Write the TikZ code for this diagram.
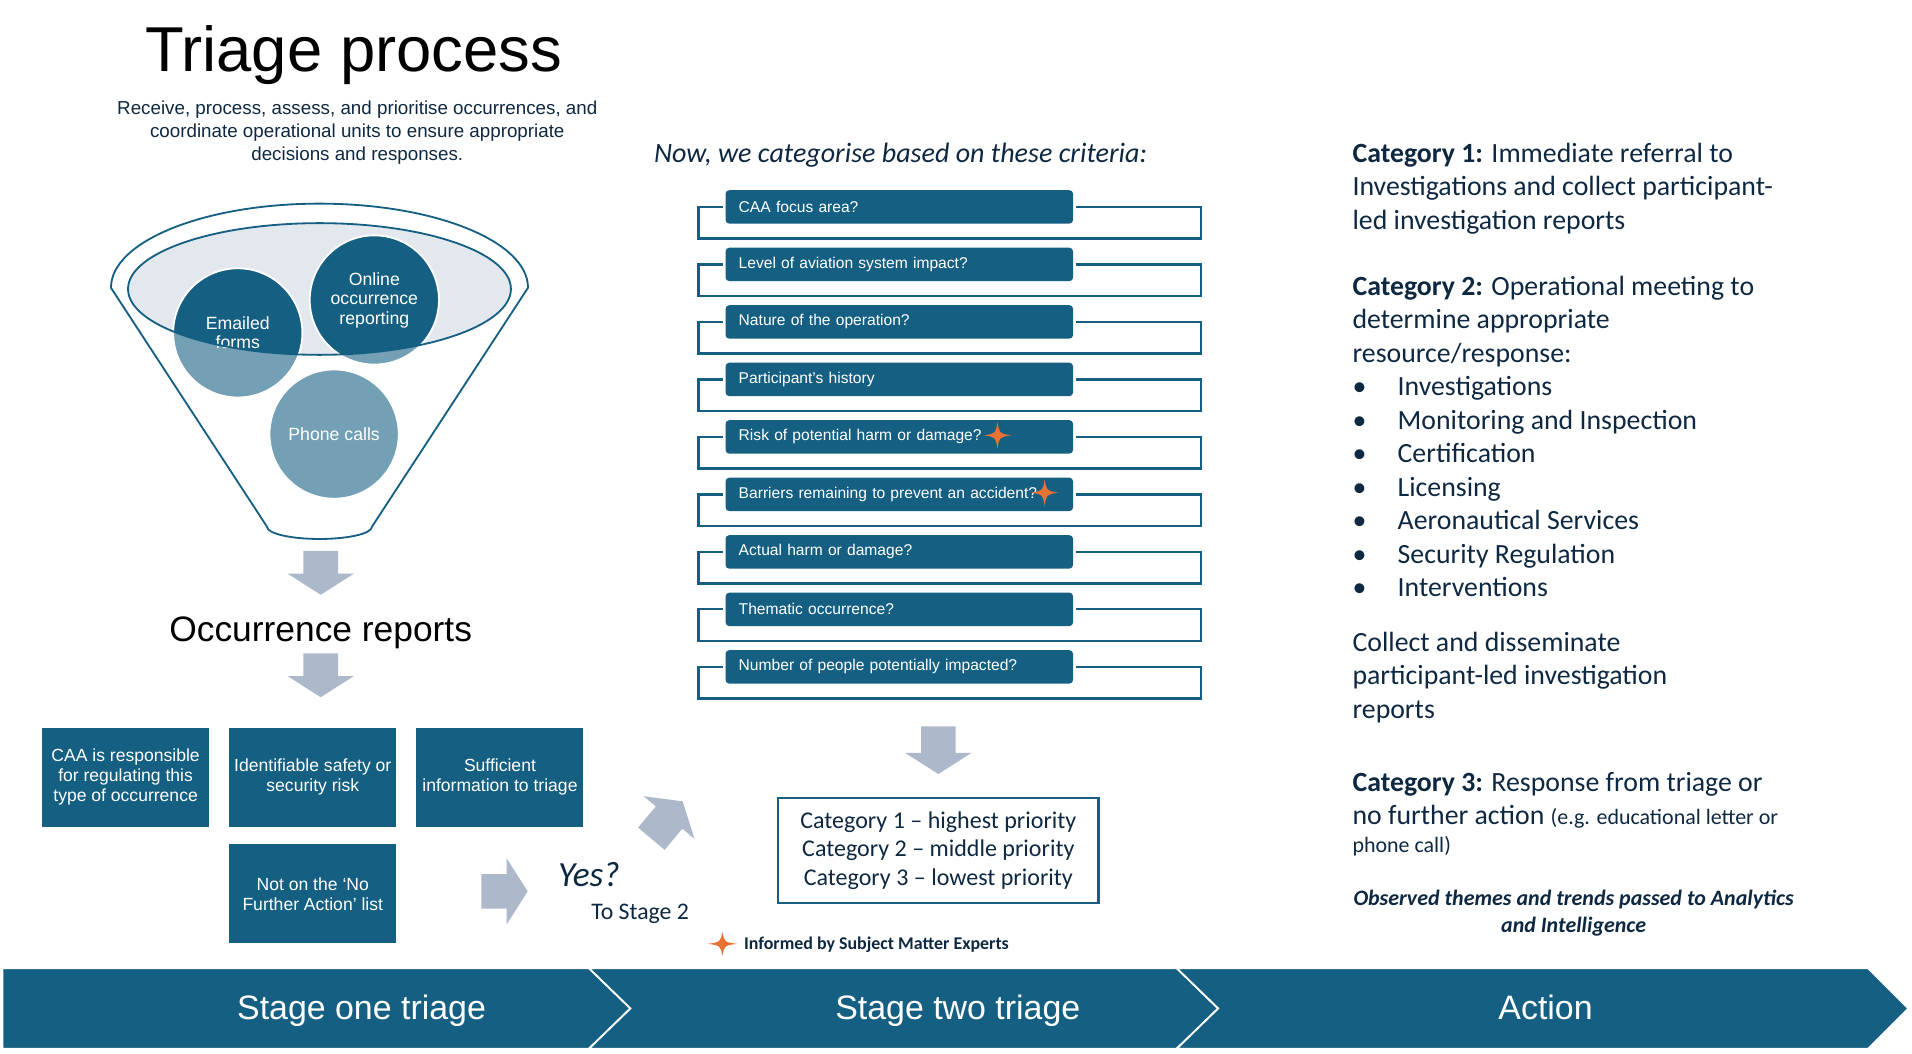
\documentclass[tikz,border=0pt]{standalone}
\usepackage{fontspec}
\setmainfont{Liberation Sans}
\newfontfamily\calfont{Carlito}
\usetikzlibrary{shapes.arrows}

\definecolor{caablue}{HTML}{156082}
\definecolor{caalight}{HTML}{73A0B4}
\definecolor{caanavy}{HTML}{0E2841}
\definecolor{caagrey}{HTML}{ADB9CA}
\definecolor{caamist}{HTML}{E3E8EE}
\definecolor{caaorange}{HTML}{E97132}

\tikzset{
	bubble/.style = {circle, minimum size = 106pt, inner sep = 0pt, fill = caalight, draw = white, line width = 1.5pt, text = white, align = center, font = \fontsize{14.5}{16}\selectfont},
	darkcap/.style = {path picture = {\fill[caablue] (bowl) ellipse (157 and 54);}},
	checkbox/.style = {fill = caablue, text = white, minimum width = 137pt, minimum height = 81pt, inner sep = 2pt, align = center, font = \fontsize{14.4}{16.4}\selectfont},
	critbox/.style = {fill = caablue, rounded corners = 3pt, text = white, minimum width = 285pt, minimum height = 27.4pt, text width = 263.4pt, inner xsep = 10.8pt, inner ysep = 0pt, align = left, font = \fontsize{12.8}{14}\selectfont},
	critline/.style = {draw = caablue, line width = 1.8pt},
	greyarrow/.style = {single arrow, fill = caagrey, inner xsep = 0pt, inner ysep = 14pt, single arrow head extend = 13pt, single arrow tip angle = 115, anchor = tip},
	chevron/.style = {fill = caablue, draw = white, line width = 1.5pt},
	rightcol/.style = {anchor = north west, align = left, inner sep = 0pt, text = caanavy, font = \calfont\fontsize{22.8}{27.5}\selectfont},
	spark/.pic = {\fill[caaorange] (0, -11) .. controls (1.5, -1.5) .. (11, 0) .. controls (1.5, 1.5) .. (0, 11) .. controls (-1.5, 1.5) .. (-11, 0) .. controls (-1.5, -1.5) .. (0, -11) -- cycle;}
}

\begin{document}
\begin{tikzpicture}[x = 1pt, y = -1pt]
	\useasboundingbox (0, 0) rectangle (1568, 864);

	\node[anchor = base, font = \fontsize{52}{60}\selectfont] (title) at (290, 59) {Triage process};
	\node[anchor = north, align = center, text = caanavy, inner sep = 0pt, font = \fontsize{15.4}{18.75}\selectfont] (intro) at (293, 82.5) {Receive, process, assess, and prioritise occurrences, and\\coordinate operational units to ensure appropriate\\decisions and responses.};

	\coordinate (bowl) at (262, 237);
	\draw[caablue, line width = 1.5pt] (91, 236) arc[start angle = 180, end angle = 360, x radius = 171, y radius = 69] -- (305, 432) arc[start angle = 0, end angle = 180, x radius = 43, y radius = 10] -- cycle;
	\fill[caamist] (bowl) ellipse (157 and 54);
	\node[bubble, darkcap] (emailed) at (195, 273) {Emailed\\forms};
	\node[bubble, darkcap] (online) at (307, 246) {Online\\occurrence\\reporting};
	\node[bubble] (phone) at (274, 356) {Phone calls};
	\draw[caablue, line width = 1.5pt] (bowl) ellipse (157 and 54);

	\node[greyarrow, minimum height = 36pt, rotate = -90] (drop1) at (263, 488) {};
	\node[anchor = base, font = \fontsize{29}{32}\selectfont] (reports) at (263, 526) {Occurrence reports};
	\node[greyarrow, minimum height = 36pt, rotate = -90] (drop2) at (263, 572) {};

	\node[checkbox] (caa) at (103, 637.5) {CAA is responsible\\for regulating this\\type of occurrence};
	\node[checkbox] (risk) at (256.5, 637.5) {Identifiable safety or\\security risk};
	\node[checkbox] (info) at (410, 637.5) {Sufficient\\information to triage};
	\node[checkbox] (nfa) at (256.5, 733) {Not on the ‘No\\Further Action’ list};

	\node[greyarrow, minimum height = 38pt] (go) at (433, 731) {};
	\node[anchor = base, text = caanavy, font = \calfont\itshape\fontsize{29}{32}\selectfont] (yes) at (483, 727) {Yes?};
	\node[anchor = base, text = caanavy, font = \calfont\fontsize{19.5}{22}\selectfont] (tostage) at (525, 754) {To Stage 2};
	\node[greyarrow, minimum height = 40pt, rotate = 50] (up) at (560, 657) {};

	\node[anchor = base, text = caanavy, font = \calfont\itshape\fontsize{23}{26}\selectfont] (criteria) at (738.5, 133) {Now, we categorise based on these criteria:};
	\node[critbox] (crit1) at (737.5, 169.7) {CAA focus area?};
	\node[critbox] (crit2) at (737.5, 216.85) {Level of aviation system impact?};
	\node[critbox] (crit3) at (737.5, 264) {Nature of the operation?};
	\node[critbox] (crit4) at (737.5, 311.15) {Participant’s history};
	\node[critbox] (crit5) at (737.5, 358.3) {Risk of potential harm or damage?};
	\node[critbox] (crit6) at (737.5, 405.45) {Barriers remaining to prevent an accident?};
	\node[critbox] (crit7) at (737.5, 452.6) {Actual harm or damage?};
	\node[critbox] (crit8) at (737.5, 499.75) {Thematic occurrence?};
	\node[critbox] (crit9) at (737.5, 546.9) {Number of people potentially impacted?};
	\draw[critline] ([xshift = -2pt]crit1.west) -- ++(-20, 0) -- ++(0, 25.9) -- ++(412, 0) -- ++(0, -25.9) -- ++(-102.4, 0);
	\draw[critline] ([xshift = -2pt]crit2.west) -- ++(-20, 0) -- ++(0, 25.9) -- ++(412, 0) -- ++(0, -25.9) -- ++(-102.4, 0);
	\draw[critline] ([xshift = -2pt]crit3.west) -- ++(-20, 0) -- ++(0, 25.9) -- ++(412, 0) -- ++(0, -25.9) -- ++(-102.4, 0);
	\draw[critline] ([xshift = -2pt]crit4.west) -- ++(-20, 0) -- ++(0, 25.9) -- ++(412, 0) -- ++(0, -25.9) -- ++(-102.4, 0);
	\draw[critline] ([xshift = -2pt]crit5.west) -- ++(-20, 0) -- ++(0, 25.9) -- ++(412, 0) -- ++(0, -25.9) -- ++(-102.4, 0);
	\draw[critline] ([xshift = -2pt]crit6.west) -- ++(-20, 0) -- ++(0, 25.9) -- ++(412, 0) -- ++(0, -25.9) -- ++(-102.4, 0);
	\draw[critline] ([xshift = -2pt]crit7.west) -- ++(-20, 0) -- ++(0, 25.9) -- ++(412, 0) -- ++(0, -25.9) -- ++(-102.4, 0);
	\draw[critline] ([xshift = -2pt]crit8.west) -- ++(-20, 0) -- ++(0, 25.9) -- ++(412, 0) -- ++(0, -25.9) -- ++(-102.4, 0);
	\draw[critline] ([xshift = -2pt]crit9.west) -- ++(-20, 0) -- ++(0, 25.9) -- ++(412, 0) -- ++(0, -25.9) -- ++(-102.4, 0);
	\pic at (818, 357) {spark};
	\pic at (856.7, 404) {spark};

	\node[greyarrow, minimum height = 39pt, rotate = -90] (drop3) at (769.5, 635) {};
	\node[draw = caablue, line width = 2pt, minimum width = 263pt, minimum height = 86pt, align = center, text = caanavy, font = \calfont\fontsize{19.7}{23.6}\selectfont] (levels) at (769.5, 697.6) {Category 1 – highest priority\\Category 2 – middle priority\\Category 3 – lowest priority};
	\pic[xscale = 1.1, yscale = 0.9] at (592.4, 774) {spark};
	\node[anchor = base west, inner sep = 0pt, text = caanavy, font = \calfont\bfseries\fontsize{14.7}{16}\selectfont] (experts) at (610, 779) {Informed by Subject Matter Experts};

	\node[rightcol] (cat1) at (1109, 117) {\textbf{Category 1:} Immediate referral to\\Investigations and collect participant-\\led investigation reports};
	\node[rightcol] (cat2) at (1109, 226) {\textbf{Category 2:} Operational meeting to\\determine appropriate\\resource/response:\\\makebox[37pt][l]{\textbullet}Investigations\\\makebox[37pt][l]{\textbullet}Monitoring and Inspection\\\makebox[37pt][l]{\textbullet}Certification\\\makebox[37pt][l]{\textbullet}Licensing\\\makebox[37pt][l]{\textbullet}Aeronautical Services\\\makebox[37pt][l]{\textbullet}Security Regulation\\\makebox[37pt][l]{\textbullet}Interventions};
	\node[rightcol] (collect) at (1109, 518) {Collect and disseminate\\participant-led investigation\\reports};
	\node[rightcol] (cat3) at (1109, 633) {\textbf{Category 3:} Response from triage or\\no further action {\fontsize{18}{20}\selectfont (e.g. educational letter or}};
	\node[anchor = base west, inner sep = 0pt, text = caanavy, font = \calfont\fontsize{18}{20}\selectfont] (cat3tail) at (1109, 699) {phone call)};
	\node[anchor = north, align = center, inner sep = 0pt, text = caanavy, font = \calfont\bfseries\itshape\fontsize{18}{22}\selectfont] (themes) at (1290.5, 730) {Observed themes and trends passed to Analytics\\and Intelligence};

	\filldraw[chevron] (2, 794) -- (483, 794) -- (517, 827) -- (483, 860) -- (2, 860) -- cycle;
	\filldraw[chevron] (483, 794) -- (965, 794) -- (999, 827) -- (965, 860) -- (483, 860) -- (517, 827) -- cycle;
	\filldraw[chevron] (965, 794) -- (1532, 794) -- (1565, 827) -- (1532, 860) -- (965, 860) -- (999, 827) -- cycle;
	\node[anchor = base, text = white, font = \fontsize{27.8}{30}\selectfont] (stage1) at (296.5, 835.7) {Stage one triage};
	\node[anchor = base, text = white, font = \fontsize{27.8}{30}\selectfont] (stage2) at (785.5, 835.7) {Stage two triage};
	\node[anchor = base, text = white, font = \fontsize{27.8}{30}\selectfont] (action) at (1267.5, 835.7) {Action};
\end{tikzpicture}
\end{document}
